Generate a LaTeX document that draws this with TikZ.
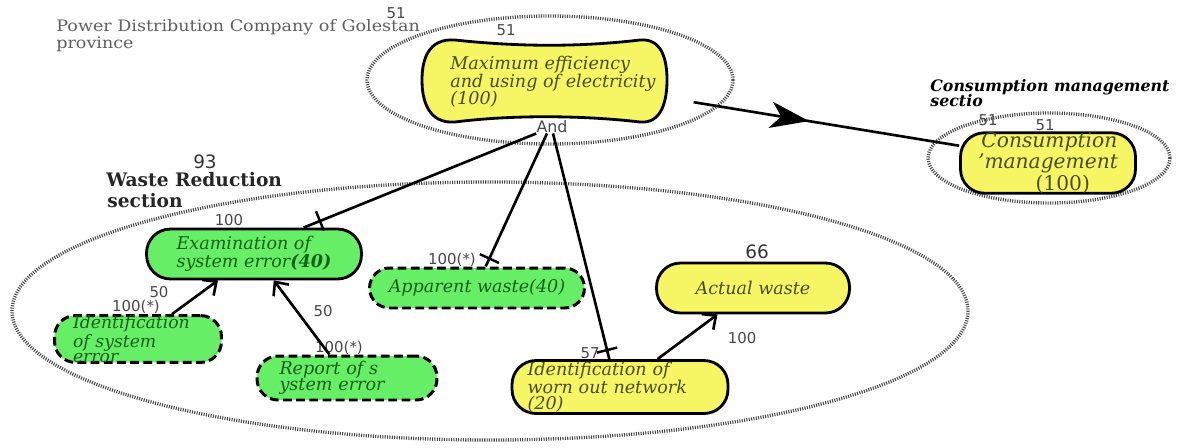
\documentclass[tikz,border=0pt]{standalone}
\usepackage{fontspec}
\setmainfont{DejaVu Serif}
\setsansfont{DejaVu Sans}
\usetikzlibrary{arrows.meta,decorations.markings}
\definecolor{gfill}{RGB}{102,238,102}
\definecolor{gtext}{RGB}{25,95,25}
\definecolor{yfill}{RGB}{246,246,100}
\definecolor{ytext}{RGB}{75,75,35}
\definecolor{numc}{RGB}{70,70,70}
\definecolor{dotc}{RGB}{70,70,70}
\definecolor{graytxt}{RGB}{95,95,95}
\begin{document}
\begin{tikzpicture}[x=0.02cm,y=-0.02cm,
  boundary/.style={draw=dotc, line width=1.9pt, dash pattern=on 0.6pt off 0.75pt},
  nodetxt/.style={font=\fontsize{10}{10}\selectfont\itshape},
  gsolid/.style={nodetxt, draw=black, line width=1.6pt, fill=gfill, text=gtext, rounded corners=0.48cm, inner sep=1pt, align=left},
  gdash/.style={nodetxt, draw=black, line width=1.7pt, dash pattern=on 5pt off 2.5pt, fill=gfill, text=gtext, rounded corners=0.42cm, inner sep=1pt, align=left},
  ysolid/.style={nodetxt, draw=black, line width=1.6pt, fill=yfill, text=ytext, rounded corners=0.48cm, inner sep=1pt, align=left},
  num/.style={font=\sffamily\fontsize{8.5}{9}\selectfont, text=numc, inner sep=0pt},
  bignum/.style={font=\sffamily\fontsize{10.5}{11}\selectfont, text=black!80, inner sep=0pt},
  conn/.style={draw=black, line width=1.5pt},
  arr/.style={conn, -{Straight Barb[length=6pt,width=11pt,line width=1.5pt]}},
  tickmark/.style={draw=black, line width=1.4pt, rectangle, minimum width=0pt, minimum height=0.42cm, inner sep=0pt, sloped}
]
\useasboundingbox (0,0) rectangle (1179,447);

% boundaries
\draw[boundary] (550,80) ellipse [x radius=183, y radius=64];
\draw[boundary] (1049,158) ellipse [x radius=121, y radius=45];
\draw[boundary] (490,311) ellipse [x radius=478, y radius=129];

% section texts
\node[anchor=north west, inner sep=0pt, align=left, text=graytxt, font=\fontsize{9}{8.6}\selectfont] (company) at (56,19) {\scalebox{1.11}[1]{Power Distribution Company of Golestan}\\\scalebox{1.11}[1]{province}};
\node[anchor=west, inner sep=0pt, font=\fontsize{9}{9}\selectfont\bfseries\itshape] (consec) at (930,87) {Consumption management};
\node[anchor=west, inner sep=0pt, font=\fontsize{9}{9}\selectfont\bfseries\itshape] (consec2) at (930,101) {sectio};
\node[anchor=west, inner sep=0pt, text=black!85, font=\fontsize{10.6}{10.6}\selectfont\bfseries] (wastesec) at (106,180) {Waste Reduction};
\node[anchor=west, inner sep=0pt, text=black!85, font=\fontsize{10.6}{10.6}\selectfont\bfseries] (wastesec2) at (107,201) {section};

% main node (bone shape)
\draw[draw=black, line width=1.6pt, fill=yfill]
  (455,40) .. controls (520,47) and (580,47) .. (640,40)
  .. controls (662,38) and (667,60) .. (667,80)
  .. controls (667,100) and (662,124) .. (640,122)
  .. controls (580,115) and (510,115) .. (455,122)
  .. controls (428,124) and (422,100) .. (422,80)
  .. controls (422,60) and (428,38) .. (455,40) -- cycle;
\node[nodetxt, text=ytext, align=left, inner sep=0pt, minimum width=4.9cm, minimum height=1.64cm] (maxn) at (553,82) {Maximum efficiency\\and using of electricity\\(100)};

% other nodes
\node[ysolid, minimum width=3.5cm, minimum height=1.16cm, inner sep=0pt, font=\fontsize{11.5}{10.3}\selectfont\itshape] (cons) at (1048,163) {\,Consumption\\'management\\\hspace*{1.15cm}{\upshape(100)}};
\node[gsolid, minimum width=4.3cm, minimum height=1.0cm] (exam) at (254,254) {Examination of\\system error\textbf{(40)}};
\node[gdash, minimum width=4.3cm, minimum height=0.8cm, rounded corners=0.4cm] (appw) at (477,288) {Apparent waste(40)};
\node[ysolid, minimum width=3.86cm, minimum height=1.0cm, align=center] (actw) at (753,288) {Actual waste};
\node[ysolid, minimum width=4.32cm, minimum height=1.06cm, inner sep=0pt, text width=3.7cm, font=\fontsize{10}{9}\selectfont\itshape] (worn) at (620,387) {Identification of\\worn out network\\(20)};
\node[gdash, minimum width=3.34cm, minimum height=0.86cm, inner sep=0pt, text width=2.6cm, font=\fontsize{9.8}{8.6}\selectfont\itshape] (idsys) at (138,339) {Identification\\of system\\error};
\node[gdash, minimum width=3.6cm, minimum height=0.88cm, text width=2.7cm, font=\fontsize{10}{9.2}\selectfont\itshape] (rep) at (347,378) {Report of s\\ystem error};

% numeric labels
\node[num] (l51a) at (396,13) {51};
\node[num] (l51b) at (506,30) {51};
\node[num, font=\sffamily\fontsize{9}{9}\selectfont] (andn) at (552,127) {And};
\node[num] (l51c) at (988,120) {51};
\node[num] (l51d) at (1045,125) {51};
\node[bignum] (l93) at (205,162) {93};
\node[num] (l100a) at (229,220) {100};
\node[num] (l50a) at (159,292) {50};
\node[num] (l100b) at (136,307) {100(*)};
\node[num] (l50b) at (323,311) {50};
\node[num] (l100c) at (339,348) {100(*)};
\node[num] (l100d) at (452,260) {100(*)};
\node[bignum] (l66) at (757,252) {66};
\node[num] (l57) at (590,353) {57};
\node[num] (l100e) at (742,338) {100};

% connectors
\draw[conn, shorten <=0.36cm,
  postaction={decorate, decoration={markings, mark=at position 0.47 with {\arrow{Stealth[length=22pt,width=15pt,inset=6pt]}}}}]
  (maxn.-8) -- (cons.169);
\draw[conn] (andn.south west) -- node[tickmark, pos=0.93] (t1) {} (exam.28);
\draw[conn] ([xshift=-0.1cm]andn.south) -- node[tickmark, pos=0.94] (t2) {} (appw.68);
\draw[conn] ([xshift=0.02cm]andn.south) -- node[tickmark, pos=0.96] (t3) {} (worn.111);
\draw[arr] (idsys) -- (exam);
\draw[arr] (rep) -- (exam);
\draw[arr] (worn) -- (actw);
\end{tikzpicture}
\end{document}
